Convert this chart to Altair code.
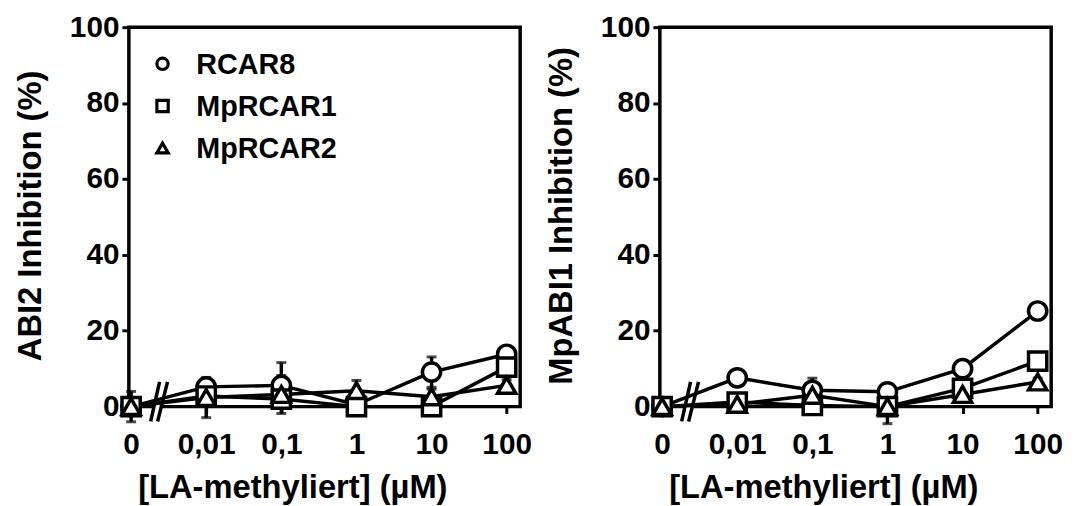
import json
import altair as alt
import pandas as pd

# ---------------- data ----------------
conc_labels = ["0", "0,01", "0,1", "1", "10", "100"]
series_names = ["RCAR8", "MpRCAR1", "MpRCAR2"]
series_shapes = ["circle", "square", "triangle-up"]

# ABI2 panel (mean, error)
abi2_rcar8 = [0.0, 5.2, 5.6, 0.5, 9.1, 13.8]
abi2_rcar8_err = [1.0, 2.0, 6.0, 1.0, 4.0, 1.5]
abi2_mprcar1 = [0.0, 2.8, 2.0, 0.0, 0.0, 10.4]
abi2_mprcar1_err = [4.0, 1.5, 1.5, 1.0, 1.0, 1.5]
abi2_mprcar2 = [0.0, 2.4, 3.2, 4.2, 2.6, 5.6]
abi2_mprcar2_err = [1.5, 5.3, 5.0, 2.7, 2.0, 1.5]

# MpABI1 panel (mean, error)
mpabi1_rcar8 = [0.0, 7.6, 4.3, 3.9, 10.0, 25.2]
mpabi1_rcar8_err = [1.0, 1.0, 1.0, 1.0, 1.5, 1.5]
mpabi1_mprcar1 = [0.0, 1.2, 0.3, 0.0, 4.8, 12.0]
mpabi1_mprcar1_err = [1.5, 1.0, 1.0, 4.5, 1.0, 1.0]
mpabi1_mprcar2 = [0.0, 0.6, 3.0, 0.0, 3.2, 6.5]
mpabi1_mprcar2_err = [1.0, 1.0, 4.5, 1.0, 1.0, 1.0]

y_ticks = [0, 20, 40, 60, 80, 100]
x_title = "[LA-methyliert] (µM)"

FONT = "Liberation Sans"
W, H = 395, 383
XDOM = [-0.03, 5.18]
label_expr = json.dumps(conc_labels) + "[datum.value]"
shape_scale = alt.Scale(domain=series_names, range=series_shapes)
SW = 3.5

# legend layout (pixels inside the left plot area)
LEG_SYM_X, LEG_TXT_X, LEG_Y0, LEG_DY = 34, 68, 37, 42.5


def build(vals, errs):
    rows = []
    for name, v, e in zip(series_names, vals, errs):
        for i, (yv, ev) in enumerate(zip(v, e)):
            rows.append({"series": name, "xi": i, "value": yv,
                         "lo": yv - ev, "hi": yv + ev})
    return pd.DataFrame(rows)


def panel(df, ytitle, show_legend):
    xaxis = alt.Axis(values=list(range(len(conc_labels))), labelExpr=label_expr,
                     title=x_title, titleX=165, titleY=92,
                     titleBaseline="alphabetic", titleAlign="center",
                     labelPadding=16)
    yaxis = alt.Axis(values=y_ticks, title=ytitle, titleX=-89, titleY=190,
                     titleAngle=270, titleBaseline="alphabetic", titleAlign="center",
                     labelPadding=3)
    xs = alt.Scale(domain=XDOM, nice=False, zero=False)
    ys = alt.Scale(domain=[0, 100], nice=False)

    def X(f):
        return alt.X(f"{f}:Q", scale=xs, axis=xaxis)

    def Y(f):
        return alt.Y(f"{f}:Q", scale=ys, axis=yaxis)

    base = alt.Chart(df)
    one = alt.Chart(alt.Data(values=[{"k": 1}]))

    gap = one.mark_rule(color="white", strokeWidth=5).encode(
        x=alt.value(26), x2=alt.value(32), y=alt.value(H), y2=alt.value(H))
    slash1 = one.mark_rule(color="black", strokeWidth=SW).encode(
        x=alt.value(22), x2=alt.value(31), y=alt.value(H + 15), y2=alt.value(H - 25))
    slash2 = one.mark_rule(color="black", strokeWidth=SW).encode(
        x=alt.value(29), x2=alt.value(39), y=alt.value(H + 15), y2=alt.value(H - 25))

    lines = base.mark_line(color="black", strokeWidth=SW).encode(
        x=X("xi"), y=Y("value"), detail="series:N", order="xi:Q")
    bars = base.mark_rule(color="black", strokeWidth=SW).encode(
        x=X("xi"), y=Y("lo"), y2="hi:Q")
    cap_hi = base.mark_tick(color="black", thickness=3, size=10,
                            orient="horizontal").encode(x=X("xi"), y=Y("hi"))
    cap_lo = base.mark_tick(color="black", thickness=3, size=10,
                            orient="horizontal").encode(x=X("xi"), y=Y("lo"))
    pts = base.mark_point(filled=False, color="black", fill="white",
                          strokeWidth=SW, size=340, opacity=1, fillOpacity=1).encode(
        x=X("xi"), y=Y("value"),
        shape=alt.Shape("series:N", scale=shape_scale, legend=None))

    layers = [gap, slash1, slash2, lines, bars, cap_hi, cap_lo, pts]

    if show_legend:
        leg_df = pd.DataFrame({"series": series_names})
        for i, name in enumerate(series_names):
            src = alt.Chart(leg_df).transform_filter(alt.datum.series == name)
            ypix = LEG_Y0 + LEG_DY * i
            layers.append(src.mark_point(
                filled=False, color="black", fill="white", strokeWidth=3.2,
                size=130, opacity=1).encode(
                x=alt.value(LEG_SYM_X), y=alt.value(ypix),
                shape=alt.Shape("series:N", scale=shape_scale, legend=None)))
            layers.append(src.mark_text(
                align="left", baseline="middle", font=FONT, fontSize=29,
                fontWeight="bold", color="black", dy=1).encode(
                x=alt.value(LEG_TXT_X), y=alt.value(ypix), text="series:N"))

    return alt.layer(*layers).properties(width=W, height=H)


left = panel(build([abi2_rcar8, abi2_mprcar1, abi2_mprcar2],
                   [abi2_rcar8_err, abi2_mprcar1_err, abi2_mprcar2_err]),
             "ABI2 Inhibition (%)", True)
right = panel(build([mpabi1_rcar8, mpabi1_mprcar1, mpabi1_mprcar2],
                    [mpabi1_rcar8_err, mpabi1_mprcar1_err, mpabi1_mprcar2_err]),
              "MpABI1 Inhibition (%)", False)

chart = alt.hconcat(left, right, spacing=141, bounds="flush").properties(
    padding={"left": 5, "top": 0, "right": 5, "bottom": 3}
).configure(font=FONT).configure_view(
    stroke="black", strokeWidth=3.5
).configure_axis(
    domain=False, grid=False, ticks=True, tickColor="black", tickWidth=3,
    tickSize=7, labelFont=FONT, labelFontSize=30, labelFontWeight="bold",
    labelColor="black", titleFont=FONT, titleFontSize=33, titleFontWeight="bold",
    titleColor="black"
)

chart.save("out.html", embed_options={"renderer": "svg", "actions": False})
